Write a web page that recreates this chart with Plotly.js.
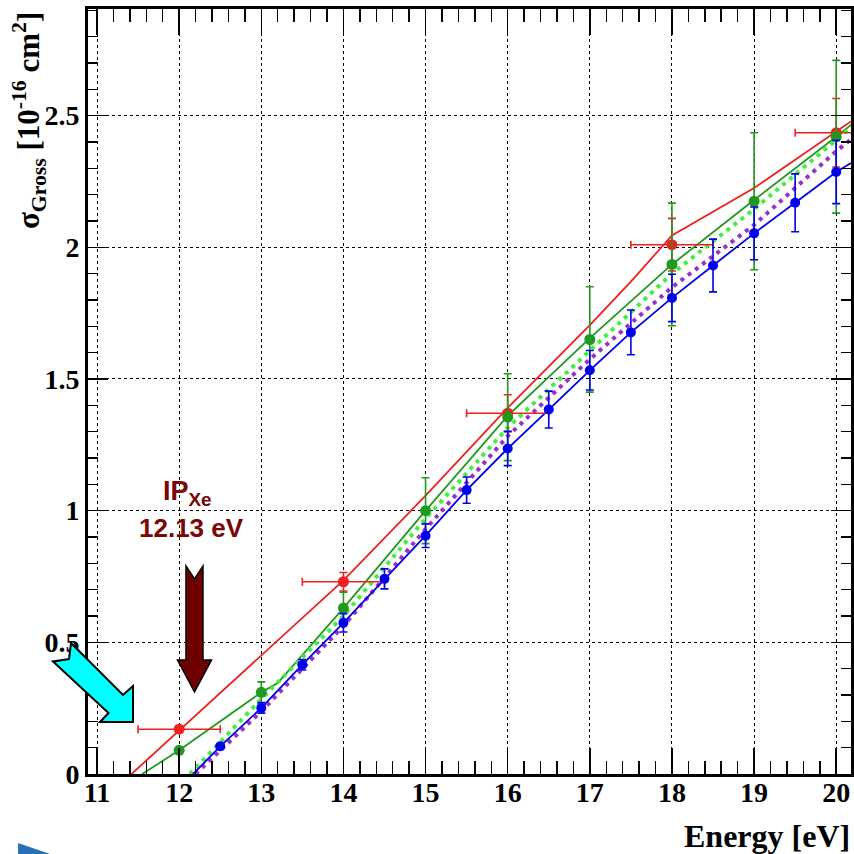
<!DOCTYPE html>
<html>
<head>
<meta charset="utf-8">
<script src="https://cdn.plot.ly/plotly-3.0.1.min.js"></script>
<style>
html,body{margin:0;padding:0;background:#fff;}
#chart{width:854px;height:854px;}
#chart .xtick text, #chart .ytick text{font-family:"Liberation Serif","Times New Roman",Times,serif !important;font-weight:bold !important;font-size:28px !important;}
</style>
</head>
<body>
<div id="chart"></div>
<script>
// ---- data: measured points ----
const redX = [12, 14, 16, 18, 20];
const redY = [0.17, 0.73, 1.37, 2.01, 2.435];
const redErrY = [0.012, 0.035, 0.07, 0.10, 0.13];
const redErrX = [0.5, 0.5, 0.5, 0.5, 0.5];

const greenX = [12, 13, 14, 15, 16, 17, 18, 19, 20];
const greenY = [0.09, 0.31, 0.63, 1.0, 1.355, 1.65, 1.935, 2.175, 2.42];
const greenErrY = [0.01, 0.04, 0.06, 0.125, 0.165, 0.2, 0.233, 0.26, 0.29];

const blueX = [12.5, 13, 13.5, 14, 14.5, 15, 15.5, 16, 16.5, 17, 17.5, 18, 18.5, 19, 19.5, 20];
const blueY = [0.105, 0.251, 0.415, 0.574, 0.741, 0.905, 1.078, 1.236, 1.384, 1.533, 1.677, 1.808, 1.931, 2.053, 2.169, 2.286];
const blueErrY = [0.01, 0.02, 0.02, 0.035, 0.038, 0.045, 0.05, 0.065, 0.07, 0.075, 0.085, 0.09, 0.1, 0.1, 0.11, 0.12];

// ---- data: model curves ----
const redLineX = [11.42, 13, 14, 15, 16, 17, 17.5, 18, 19, 20, 20.18];
const redLineY = [0, 0.45, 0.735, 1.057, 1.39, 1.705, 1.87, 2.045, 2.225, 2.44, 2.478];

const greenLineX = [11.55, 12, 13, 13.2, 14, 15, 16, 17, 18, 19, 20, 20.18];
const greenLineY = [0, 0.09, 0.31, 0.345, 0.63, 1.0, 1.36, 1.655, 1.935, 2.18, 2.42, 2.465];

const greenDotX = [12.13, 13, 14, 15, 16, 17, 18, 19, 20, 20.18];
const greenDotY = [0, 0.285, 0.6, 0.97, 1.315, 1.61, 1.9, 2.145, 2.405, 2.455];

const purpleDotX = [12.2, 13, 14, 15, 16, 17, 18, 19, 20, 20.18];
const purpleDotY = [0, 0.238, 0.562, 0.93, 1.283, 1.575, 1.848, 2.085, 2.365, 2.41];

const blueLineX = [12.17, 12.5, 13, 13.5, 14, 14.5, 15, 15.5, 16, 16.5, 17, 17.5, 18, 18.5, 19, 19.5, 20, 20.18];
const blueLineY = [0, 0.105, 0.251, 0.415, 0.574, 0.741, 0.905, 1.078, 1.236, 1.384, 1.533, 1.677, 1.808, 1.931, 2.053, 2.169, 2.286, 2.32];

// ---- colours ----
const cRed = '#ee2020', cGreen = '#1f9a1f', cGreenDot = '#40f040', cPurple = '#9a30d0', cBlue = '#0000ee';

const traces = [
  {x: redLineX, y: redLineY, mode: 'lines', line: {color: cRed, width: 1.8}, hoverinfo: 'skip'},
  {x: greenLineX, y: greenLineY, mode: 'lines', line: {color: cGreen, width: 1.8}, hoverinfo: 'skip'},
  {x: greenDotX, y: greenDotY, mode: 'lines', line: {color: cGreenDot, width: 4, dash: '4px,5px'}, hoverinfo: 'skip'},
  {x: purpleDotX, y: purpleDotY, mode: 'lines', line: {color: cPurple, width: 4, dash: '4px,5px'}, hoverinfo: 'skip'},
  {x: blueLineX, y: blueLineY, mode: 'lines', line: {color: cBlue, width: 1.8}, hoverinfo: 'skip'},
  {x: redX, y: redY, mode: 'markers', marker: {color: cRed, size: 11},
   error_y: {type: 'data', array: redErrY, color: cRed, thickness: 1.6, width: 4},
   error_x: {type: 'data', array: redErrX, color: cRed, thickness: 1.6, width: 4}},
  {x: greenX, y: greenY, mode: 'markers', marker: {color: cGreen, size: 11},
   error_y: {type: 'data', array: greenErrY, color: cGreen, thickness: 1.6, width: 4}},
  {x: blueX, y: blueY, mode: 'markers', marker: {color: cBlue, size: 10},
   error_y: {type: 'data', array: blueErrY, color: cBlue, thickness: 1.6, width: 4}}
];

// pixel -> paper helper for decorative shapes
const L = 88, T = 9, W = 763, H = 765;
function px(x, y) { return ((x - L) / W).toFixed(4) + ',' + ((T + H - y) / H).toFixed(4); }
function path(pts) { return 'M' + pts.map(p => px(p[0], p[1])).join(' L') + ' Z'; }

const SERIF = '"Liberation Serif", "Times New Roman", Times, serif';
const SANS = '"Liberation Sans", Arial, Helvetica, sans-serif';
function tickFont() { return {family: SERIF, size: 28, color: '#000', weight: 'bold'}; }

const layout = {
  width: 854, height: 854,
  margin: {l: L, r: 854 - L - W, t: T, b: 854 - T - H},
  paper_bgcolor: '#fff', plot_bgcolor: '#fff',
  showlegend: false,
  xaxis: {
    range: [10.89, 20.18], tick0: 11, dtick: 1, ticks: 'inside', ticklen: 26, tickwidth: 1.5, tickcolor: '#000',
    mirror: 'ticks', showline: true, linewidth: 3, linecolor: '#000',
    showgrid: true, gridcolor: '#000', gridwidth: 1, griddash: '3px,3px',
    zeroline: false, tickfont: tickFont(), ticklabelstandoff: -9,
    minor: {dtick: 0.2, ticks: 'inside', ticklen: 13, tickwidth: 1.5, tickcolor: '#000', showgrid: false}
  },
  yaxis: {
    range: [0, 2.905], tick0: 0, dtick: 0.5, ticks: 'inside', ticklen: 20, tickwidth: 1.5, tickcolor: '#000',
    mirror: 'ticks', showline: true, linewidth: 3, linecolor: '#000',
    showgrid: true, gridcolor: '#000', gridwidth: 1, griddash: '3px,3px',
    zeroline: false, tickfont: tickFont(),
    minor: {dtick: 0.1, ticks: 'inside', ticklen: 10, tickwidth: 1.5, tickcolor: '#000', showgrid: false}
  },
  shapes: [
    // dark red arrow (IP marker)
    {type: 'path', xref: 'paper', yref: 'paper', fillcolor: '#6e0000', line: {color: '#000', width: 1.5},
     path: path([[186, 566], [194.5, 579], [203, 566], [203, 660], [211.5, 660], [194.5, 692], [177.5, 660], [186, 660]])},
    // cyan arrow
    {type: 'path', xref: 'paper', yref: 'paper', fillcolor: '#00ffff', line: {color: '#000', width: 2},
     path: path([[71, 643], [123, 695], [133, 686], [133, 722], [100, 722], [108.5, 713], [53, 661.5], [69, 659]])},
    // blue corner decoration
    {type: 'path', xref: 'paper', yref: 'paper', fillcolor: 'rgba(16,96,176,0.9)', line: {width: 0},
     path: path([[18, 843], [50, 854], [18, 854]])}
  ],
  annotations: [
    {xref: 'paper', yref: 'paper', x: (29 - L) / W, y: (T + H - 121) / H, xanchor: 'center', yanchor: 'middle',
     textangle: -90, showarrow: false,
     text: 'σ<sub>Gross</sub> [10<sup>-16</sup> cm<sup>2</sup>]',
     font: {family: SERIF, size: 31, color: '#000', weight: 'bold'}},
    {xref: 'paper', yref: 'paper', x: (852 - L) / W, y: (T + H - 836) / H, xanchor: 'right', yanchor: 'middle',
     showarrow: false, text: 'Energy [eV]',
     font: {family: SERIF, size: 32, color: '#000', weight: 'bold'}},
    {xref: 'paper', yref: 'paper', x: (187 - L) / W, y: (T + H - 493) / H, xanchor: 'center', yanchor: 'middle',
     showarrow: false, text: 'IP<sub>Xe</sub>',
     font: {family: SANS, size: 27, color: '#7a0606', weight: 'bold'}},
    {xref: 'paper', yref: 'paper', x: (191 - L) / W, y: (T + H - 528) / H, xanchor: 'center', yanchor: 'middle',
     showarrow: false, text: '12.13 eV',
     font: {family: SANS, size: 26, color: '#7a0606', weight: 'bold'}}
  ]
};

function fixTickFonts() {
  document.querySelectorAll('#chart .xtick text, #chart .ytick text').forEach(function (e) {
    e.style.fontFamily = SERIF;
    e.style.fontWeight = 'bold';
    e.style.fontSize = '28px';
  });
}

Plotly.newPlot('chart', traces, layout, {displayModeBar: false, staticPlot: true}).then(function (gd) {
  fixTickFonts();
  gd.on('plotly_afterplot', fixTickFonts);
  setTimeout(fixTickFonts, 100);
});
</script>
</body>
</html>
